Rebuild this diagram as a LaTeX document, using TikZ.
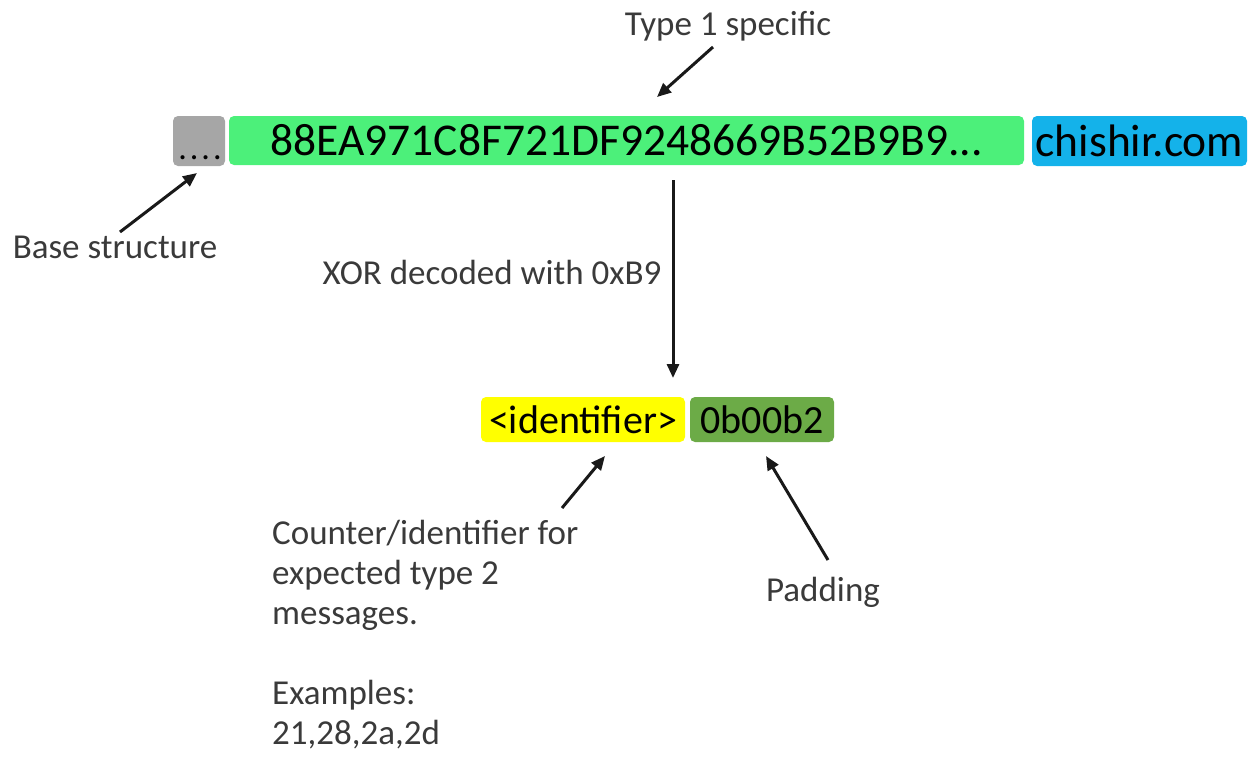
\documentclass[tikz,border=0pt]{standalone}
\usepackage{fontspec}
\setmainfont{Carlito}
\usetikzlibrary{arrows.meta}
\definecolor{boxgray}{HTML}{A6A6A6}
\definecolor{hexgreen}{HTML}{4CF07A}
\definecolor{domblue}{HTML}{14B2EA}
\definecolor{idyellow}{HTML}{FFFF00}
\definecolor{padgreen}{HTML}{6CAB47}
\definecolor{labelgray}{HTML}{3A3A3A}
\tikzset{
  field/.style={rounded corners=5pt, inner sep=0pt, text=black},
  bigtext/.style={font=\fontsize{45.5}{50}\selectfont},
  midtext/.style={font=\fontsize{40}{46}\selectfont},
  note/.style={text=labelgray, inner sep=0pt, font=\fontsize{35}{40}\selectfont},
  pointer/.style={line width=3pt, -{Triangle[length=14pt,width=12pt]}, black!90},
}
\begin{document}
\begin{tikzpicture}[x=1pt,y=-1pt]
  \useasboundingbox (0,0) rectangle (1256,763);

  % header row: base part, type 1 payload, domain
  \node[field, fill=boxgray, minimum width=52, minimum height=50] (base) at (199,141) {};
  \node[anchor=base, inner sep=0pt, font=\fontsize{34}{40}\selectfont] (dots) at (200,159)
    {.\kern3pt.\kern3pt.\kern3pt.};
  \node[field, fill=hexgreen, minimum width=795, minimum height=49, bigtext] (payload) at (626.5,140.5) {88EA971C8F721DF9248669B52B9B9...};
  \node[field, fill=domblue, minimum width=215, minimum height=50, bigtext] (domain) at (1139.5,141) {chishir.com};

  % decoded row
  \node[field, fill=idyellow, minimum width=204, minimum height=45, midtext] (ident) at (583,419.5) {<identifier>};
  \node[field, fill=padgreen, minimum width=144, minimum height=45, midtext] (pad) at (762,419.5) {0b00b2};

  % annotations
  \node[note] (type1) at (728,26) {Type 1 specific};
  \node[note] (basestruct) at (115,247) {Base structure};
  \node[note] (xor) at (492,272) {XOR decoded with 0xB9};
  \node[note, anchor=north west, align=left] (counter) at (272,520)
    {Counter/identifier for\\expected type 2\\messages.\\[40pt]Examples:\\21,28,2a,2d};
  \node[note] (padding) at (823,592) {Padding};

  % arrow end points
  \coordinate (t1tail) at (713,47);
  \coordinate (t1head) at (657,97);
  \coordinate (bstail) at (120,232);
  \coordinate (bshead) at (197,173);
  \coordinate (xortail) at (673,180);
  \coordinate (xorhead) at (673,378);
  \coordinate (cttail) at (562,508);
  \coordinate (cthead) at (605,456);
  \coordinate (pdtail) at (828,560);
  \coordinate (pdhead) at (766,456);

  \draw[pointer] (t1tail) -- (t1head);
  \draw[pointer] (bstail) -- (bshead);
  \draw[pointer] (xortail) -- (xorhead);
  \draw[pointer] (cttail) -- (cthead);
  \draw[pointer] (pdtail) -- (pdhead);
\end{tikzpicture}
\end{document}
